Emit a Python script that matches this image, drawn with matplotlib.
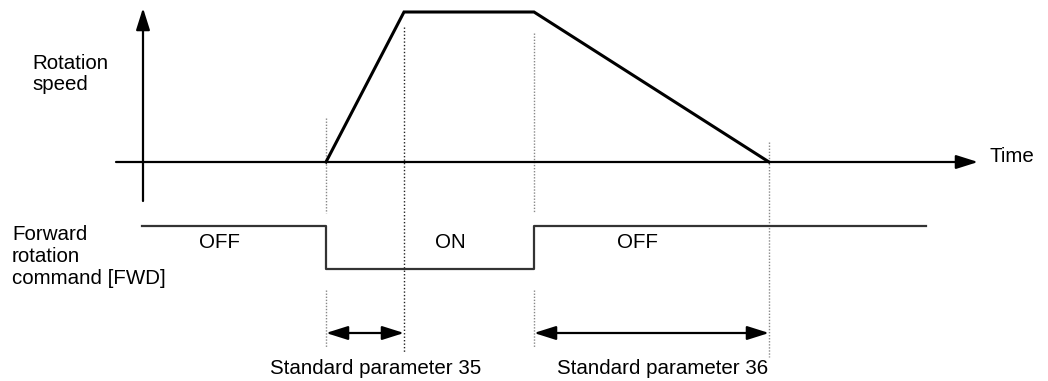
import matplotlib
matplotlib.use('Agg')
import matplotlib.pyplot as plt

W, H = 1048, 381
plt.rcParams['font.family'] = ['Liberation Sans', 'DejaVu Sans']

# моменты времени (горизонталь в пикселях схемы)
speed_t = [326, 404, 534, 769]
speed_v = [0, 1, 1, 0]

fwd_t = [142, 326, 326, 534, 534, 926]
fwd_v = [1, 1, 0, 0, 1, 1]   # 1 = OFF, 0 = ON
fwd_labels = ['OFF', 'ON', 'OFF']
fwd_label_t = [220, 450, 638]

param_spans = [(326, 404), (534, 769)]
param_labels = ['Standard parameter 35', 'Standard parameter 36']
param_label_t = [376, 663]

fig = plt.figure(figsize=(W / 100, H / 100), dpi=100)

# базовые оси в пикселях
ax = fig.add_axes([0, 0, 1, 1])
ax.set_xlim(0, W)
ax.set_ylim(H, 0)
ax.axis('off')

# оси скорости: 0 -> y=162, 1 -> y=12
ax_s = fig.add_axes([0, (H - 162) / H, 1, 150 / H])
ax_s.set_xlim(0, W)
ax_s.set_ylim(0, 1)
ax_s.axis('off')

# оси команды: ON=0 -> y=269, OFF=1 -> y=226
ax_c = fig.add_axes([0, (H - 269) / H, 1, 43 / H])
ax_c.set_xlim(0, W)
ax_c.set_ylim(0, 1)
ax_c.axis('off')

fs = 14.8
head = dict(arrowstyle='-|>,head_length=0.95,head_width=0.3', color='black',
            lw=1.6, mutation_scale=14, shrinkA=0, shrinkB=0)

# ось скорости и ось времени
ax.annotate('', xy=(143, 8), xytext=(143, 201), arrowprops=head)
ax.annotate('', xy=(978, 162), xytext=(116, 162), arrowprops=head)
ax.text(990, 156, 'Time', fontsize=fs, va='center', ha='left')

ax.text(32, 74, 'Rotation\nspeed', fontsize=fs, va='center', ha='left',
        linespacing=1.15)
ax.text(12, 256, 'Forward\nrotation\ncommand [FWD]', fontsize=fs,
        va='center', ha='left', linespacing=1.2)

# пунктирные вертикали
dot = dict(color='#888888', lw=1.0, ls=(0, (1, 1.2)))
ax.plot([326, 326], [118, 213], **dot)
ax.plot([326, 326], [290, 347], **dot)
ax.plot([404, 404], [27, 353], color='#222222', lw=1.0, ls=(0, (1, 1.5)))
ax.plot([534, 534], [33, 213], **dot)
ax.plot([534, 534], [290, 347], **dot)
ax.plot([769, 769], [142, 357], **dot)

# профиль скорости
ax_s.plot(speed_t, speed_v, color='black', lw=2.2, clip_on=False,
          solid_joinstyle='miter')

# команда FWD
ax_c.plot(fwd_t, fwd_v, color='#333333', lw=1.6, clip_on=False)
for t, lab in zip(fwd_label_t, fwd_labels):
    ax.text(t, 243, lab, fontsize=fs, ha='center', va='center')

# стрелки параметров
both = dict(arrowstyle='<|-|>,head_length=0.95,head_width=0.3', color='black',
            lw=1.6, mutation_scale=14, shrinkA=0, shrinkB=0)
for (a, b), t, lab in zip(param_spans, param_label_t, param_labels):
    ax.annotate('', xy=(b, 333), xytext=(a, 333), arrowprops=both)
    ax.text(t, 368, lab, fontsize=fs, ha='center', va='center')

fig.savefig('out.png', dpi=100)
